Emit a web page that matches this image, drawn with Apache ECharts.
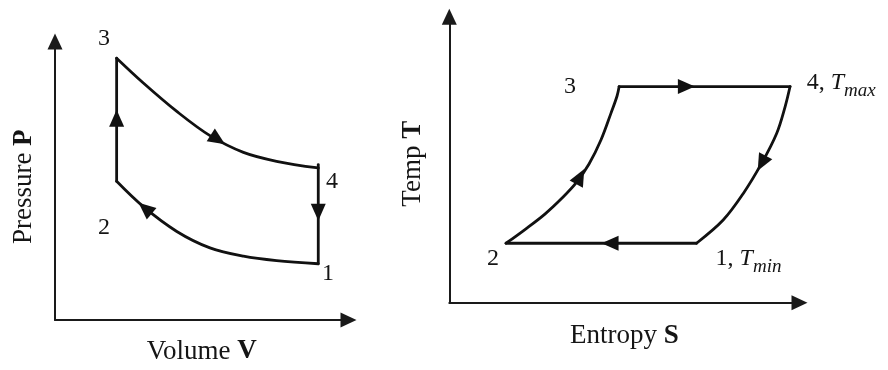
<!DOCTYPE html>
<html><head><meta charset="utf-8">
<script src="https://cdn.jsdelivr.net/npm/echarts@6/dist/echarts.min.js"></script>
<style>html,body{margin:0;padding:0;background:#fff}#c{width:888px;height:370px}</style>
</head><body><div id="c"></div>
<script>
// ---- P-V diagram (left) ----
const pvTopCurve = [[2.10,9.40],[3.01,8.51],[4.15,7.49],[5.28,6.62],[6.42,6.02],[7.55,5.70],[8.97,5.46]];
const pvBottomCurve = [[2.10,4.98],[3.01,4.07],[4.15,3.18],[5.28,2.59],[6.42,2.29],[7.55,2.13],[8.97,2.02]];
const pvLeftSide = [[2.10,4.98],[2.10,9.40]];
const pvRightSide = [[8.97,5.58],[8.97,2.02]];
const pvArrows = [[2.10,7.24,0],[5.55,6.48,-123],[8.97,3.87,180],[3.07,4.01,50]];
const pvLabels = [['3',1.67,10.09],['4',9.44,4.97],['2',1.67,3.30],['1',9.30,1.66]];
const pvAxisNames = ['{a|Volume }{b|V}','{a|Pressure }{b|P}'];
// ---- T-S diagram (right) ----
const tsTopLine = [[4.85,7.56],[9.73,7.56]];
const tsBottomLine = [[1.62,2.08],[7.06,2.08]];
const tsLeftCurve = [[1.62,2.08],[2.16,2.56],[2.73,3.10],[3.22,3.66],[3.62,4.19],[3.99,4.85],[4.33,5.69],[4.62,6.64],[4.79,7.23],[4.85,7.56]];
const tsRightCurve = [[9.73,7.56],[9.59,6.86],[9.35,5.93],[8.92,4.88],[8.40,3.83],[7.82,2.89],[7.06,2.08]];
const tsArrows = [[6.77,7.56,-90],[4.59,2.08,90],[3.74,4.41,-28],[8.92,4.88,152]];
const tsLabelsCenter = [['3',3.45,7.56],['2',1.25,1.55]];
const tsLabelsRight = [['{n|4, }{t|T}{s|max}',10.19,7.70],['{n|1, }{t|T}{s|min}',7.59,1.53]];
const tsAxisNames = ['{a|Entropy }{b|S}','{a|Temp }{b|T}'];

const INK = '#111';
const TXT = '#151515';
const FONT = "'Liberation Serif','DejaVu Serif',serif";

function axis(grid, name, gap, pad) {
  return {
    type: 'value', gridIndex: grid, min: 0, max: 10,
    name: name, nameLocation: 'middle', nameGap: gap,
    nameTextStyle: {
      color: TXT, fontFamily: FONT, fontSize: 27, padding: pad,
      rich: {
        a: {fontFamily: FONT, fontSize: 27, color: TXT},
        b: {fontFamily: FONT, fontSize: 27, fontWeight: 'bold', color: TXT}
      }
    },
    axisLine: {show: true, onZero: false, symbol: ['none','triangle'], symbolSize: [15,16],
      lineStyle: {color: '#1a1a1a', width: 2}},
    axisTick: {show: false}, axisLabel: {show: false}, splitLine: {show: false}
  };
}

function lineSeries(idx, data, smooth) {
  return {type: 'line', xAxisIndex: idx, yAxisIndex: idx, data: data, smooth: smooth,
    showSymbol: false, symbol: 'none', silent: true,
    lineStyle: {color: INK, width: 2.8, cap: 'round', join: 'round'}};
}
function arrowSeries(idx, arr) {
  return {type: 'scatter', xAxisIndex: idx, yAxisIndex: idx, silent: true, clip: false,
    symbol: 'triangle', symbolSize: [15,17], itemStyle: {color: INK, opacity: 1},
    data: arr.map(a => ({value: [a[0], a[1]], symbolRotate: a[2]}))};
}
const labelText = {fontFamily: FONT, fontSize: 24, color: TXT};
function labelSeries(idx, arr, pos) {
  return {type: 'scatter', xAxisIndex: idx, yAxisIndex: idx, silent: true, clip: false,
    symbol: 'circle', symbolSize: 1, itemStyle: {color: 'rgba(0,0,0,0)', opacity: 1},
    label: {show: true, position: pos, distance: 0, formatter: p => p.name, opacity: 1,
      fontFamily: FONT, fontSize: 24, color: TXT,
      rich: {
        n: labelText,
        t: {fontFamily: FONT, fontSize: 24, fontStyle: 'italic', color: TXT},
        s: {fontFamily: FONT, fontSize: 19, fontStyle: 'italic', color: TXT, padding: [16,0,0,0]}
      }},
    data: arr.map(a => ({name: a[0], value: [a[1], a[2]]}))};
}

const chart = echarts.init(document.getElementById('c'), null, {renderer: 'canvas'});
chart.setOption({
  animation: false,
  backgroundColor: '#fff',
  grid: [
    {left: 55, top: 41.5, width: 293.5, height: 281.2},
    {left: 449.3, top: 16.8, width: 350.2, height: 285.9}
  ],
  xAxis: [axis(0, pvAxisNames[0], 18, 0), axis(1, tsAxisNames[0], 20, 0)],
  yAxis: [axis(0, pvAxisNames[1], 17.5, [0,12,0,0]), axis(1, tsAxisNames[1], 23, [0,8,0,0])],
  series: [
    lineSeries(0, pvTopCurve, 0.35),
    lineSeries(0, pvBottomCurve, 0.35),
    lineSeries(0, pvLeftSide, false),
    lineSeries(0, pvRightSide, false),
    arrowSeries(0, pvArrows),
    labelSeries(0, pvLabels, 'inside'),
    lineSeries(1, tsTopLine, false),
    lineSeries(1, tsBottomLine, false),
    lineSeries(1, tsLeftCurve, 0.35),
    lineSeries(1, tsRightCurve, 0.35),
    arrowSeries(1, tsArrows),
    labelSeries(1, tsLabelsCenter, 'inside'),
    labelSeries(1, tsLabelsRight, 'right')
  ]
});
</script></body></html>
